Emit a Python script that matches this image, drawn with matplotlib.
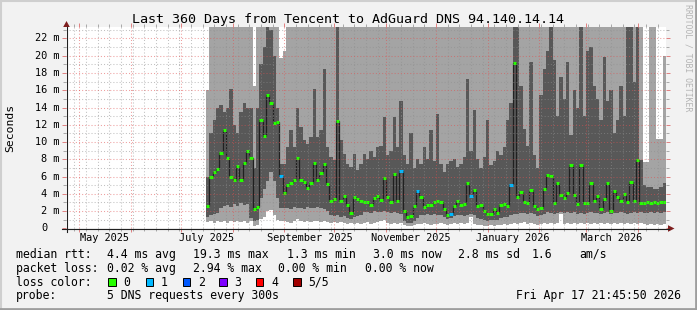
import numpy as np
import matplotlib
matplotlib.use('Agg')
import matplotlib.pyplot as plt
from matplotlib.patches import Rectangle, Polygon
from datetime import datetime, timedelta

# ---------------- data ----------------
title = "Last 360 Days from Tencent to AdGuard DNS 94.140.14.14"
end_time = datetime(2026, 4, 17, 21, 45, 50)
span_days = 360
first_col_day = 84      # first consolidated column, days after window start
col_days = 2            # width of each consolidated column (days)

# smoke boundaries in ms: lowest ping, 2nd ping, 4th ping, highest ping; median; loss count
lo = [0.7, 0.8, 0.6, 0.8, 0.7, 0.9, 0.6, 0.8, 0.7, 0.9, 0.7, 0.8, 0.6, 0.8, 0.3, 0.4, 1.1, 1.3, 2.0, 2.1,
      1.5, 1.0, 0.9, 0.8, 0.7, 0.6, 0.9, 1.1, 0.8, 0.7, 0.8, 0.7, 0.9, 0.8, 0.7, 0.8, 0.7, 0.6, 0.7, 0.6,
      0.7, 0.6, 0.5, 0.6, 0.5, 0.6, 0.5, 0.6, 0.7, 0.5, 0.6, 0.7, 0.8, 1.0, 0.6, 0.5, 0.6, 0.5, 0.6, 0.4,
      0.3, 0.3, 0.4, 0.5, 0.5, 0.6, 0.5, 0.4, 0.5, 0.5, 0.6, 0.5, 0.4, 0.5, 0.6, 0.5, 0.6, 0.5, 0.6, 1.3,
      0.5, 0.4, 0.4, 0.3, 0.3, 0.4, 0.3, 0.4, 0.4, 0.5, 0.4, 0.5, 0.6, 0.5, 0.6, 0.7, 0.5, 0.6, 0.5, 0.4,
      0.5, 0.6, 0.5, 0.6, 0.5, 0.6, 1.6, 0.5, 0.6, 0.5, 0.6, 0.5, 0.6, 0.5, 0.6, 0.5, 0.6, 0.5, 0.6, 0.5,
      0.6, 0.5, 0.6, 0.5, 0.6, 0.5, 0.6, 0.5, 0.6, 0.5, 0.6, 0.5, 0.4, 0.5, 0.4, 0.5, 0.4, 0.5]
q1 = [1.3, 1.5, 1.6, 1.8, 2.3, 2.6, 2.7, 2.5, 2.8, 2.6, 2.9, 2.7, 2.8, 1.2, 0.9, 1.0, 3.5, 4.5, 5.5, 6.5,
      5.5, 3.5, 2.3, 2.3, 2.4, 2.2, 2.5, 2.3, 2.4, 2.2, 2.5, 2.3, 2.4, 2.5, 2.3, 2.2, 2.0, 1.5, 1.4, 1.5,
      1.3, 1.4, 1.2, 1.1, 1.3, 1.4, 1.5, 1.9, 1.9, 1.8, 2.0, 1.9, 1.9, 2.0, 1.9, 1.8, 1.9, 1.8, 1.7, 0.8,
      0.6, 0.6, 0.8, 1.2, 1.5, 1.5, 1.6, 1.5, 1.6, 1.5, 1.5, 1.3, 1.1, 1.2, 1.4, 1.5, 1.5, 1.4, 1.5, 1.7,
      1.5, 1.2, 1.1, 1.0, 0.9, 1.0, 1.0, 1.0, 1.2, 1.3, 1.3, 1.5, 1.6, 1.7, 1.8, 1.8, 1.7, 1.8, 1.6, 1.4,
      1.5, 1.7, 1.9, 1.8, 1.7, 1.8, 1.9, 1.8, 1.9, 1.8, 1.9, 1.7, 1.8, 1.7, 1.8, 1.9, 1.8, 1.8, 1.7, 1.8,
      1.9, 1.7, 1.8, 1.8, 1.9, 1.8, 1.7, 1.8, 1.9, 1.8, 1.9, 1.8, 1.8, 1.9, 1.8, 1.9, 1.8, 1.9]
q3 = [6.0, 11.0, 12.5, 14.0, 14.3, 13.5, 14.0, 16.2, 12.0, 11.0, 13.5, 14.5, 14.0, 14.0, 7.0, 14.0, 19.0, 21.0, 25.0, 23.0,
      20.0, 14.0, 7.5, 7.5, 9.4, 11.4, 9.4, 14.0, 11.7, 10.2, 9.8, 10.6, 16.2, 10.6, 11.4, 18.5, 9.4, 8.3, 7.9, 25.0,
      10.2, 8.6, 7.5, 7.1, 8.6, 6.7, 7.5, 8.6, 8.0, 9.0, 8.3, 9.4, 9.5, 12.9, 8.5, 9.0, 12.9, 9.4, 14.8, 8.5,
      7.5, 11.0, 7.0, 8.0, 7.5, 9.4, 8.0, 11.4, 7.8, 13.3, 7.5, 6.5, 7.5, 7.8, 8.0, 7.1, 7.5, 8.3, 17.3, 9.0,
      13.7, 8.0, 7.0, 8.3, 12.5, 7.3, 7.8, 9.0, 8.5, 9.4, 12.5, 14.5, 25.0, 25.0, 16.5, 11.5, 9.5, 19.3, 8.5, 7.0,
      15.5, 18.5, 20.5, 25.0, 19.5, 13.0, 17.5, 15.0, 19.3, 10.8, 16.0, 14.0, 25.0, 13.0, 20.5, 21.0, 16.5, 15.0, 12.5, 19.8,
      14.8, 16.0, 11.0, 12.5, 16.5, 13.0, 25.0, 25.0, 17.0, 25.0, 7.9, 5.0, 4.8, 4.8, 4.5, 4.5, 4.8, 5.3]
hi = [16.0, 25.0, 25.0, 25.0, 25.0, 25.0, 25.0, 25.0, 25.0, 25.0, 25.0, 25.0, 25.0, 25.0, 16.5, 25.0, 25.0, 25.0, 25.0, 25.0,
      25.0, 25.0, 19.7, 20.5, 25.0, 25.0, 25.0, 25.0, 25.0, 25.0, 25.0, 25.0, 25.0, 25.0, 25.0, 25.0, 25.0, 25.0, 25.0, 25.0,
      25.0, 25.0, 25.0, 25.0, 25.0, 25.0, 25.0, 25.0, 25.0, 25.0, 25.0, 25.0, 25.0, 25.0, 25.0, 25.0, 25.0, 25.0, 25.0, 25.0,
      25.0, 25.0, 25.0, 25.0, 25.0, 25.0, 25.0, 25.0, 25.0, 25.0, 25.0, 25.0, 25.0, 25.0, 25.0, 25.0, 25.0, 25.0, 25.0, 25.0,
      25.0, 25.0, 25.0, 25.0, 25.0, 25.0, 25.0, 25.0, 25.0, 25.0, 25.0, 25.0, 25.0, 25.0, 25.0, 25.0, 25.0, 25.0, 25.0, 25.0,
      25.0, 25.0, 25.0, 25.0, 25.0, 25.0, 25.0, 25.0, 25.0, 25.0, 25.0, 25.0, 25.0, 25.0, 25.0, 25.0, 25.0, 25.0, 25.0, 25.0,
      25.0, 25.0, 25.0, 25.0, 25.0, 25.0, 25.0, 25.0, 25.0, 25.0, 25.0, 7.7, 7.7, 25.0, 25.0, 10.4, 10.4, 20.0]
med = [2.6, 6.0, 6.5, 6.9, 8.7, 11.4, 8.1, 6.0, 5.6, 7.2, 5.6, 7.6, 9.0, 8.1, 2.2, 2.5, 12.5, 10.7, 15.4, 14.5,
       12.2, 12.3, 6.1, 4.1, 5.0, 5.3, 5.6, 8.1, 5.6, 5.4, 4.7, 5.3, 7.6, 5.6, 6.4, 7.4, 5.1, 3.2, 3.4, 12.4,
       3.2, 3.7, 2.7, 1.8, 3.6, 3.4, 3.2, 3.0, 3.1, 2.7, 3.5, 3.7, 3.3, 5.8, 3.6, 3.0, 6.3, 3.2, 6.6, 2.0,
       1.3, 1.4, 2.6, 4.3, 3.6, 2.5, 2.7, 2.7, 3.0, 3.2, 3.0, 2.2, 1.5, 1.7, 2.6, 3.2, 2.7, 2.8, 5.2, 3.7,
       4.4, 2.6, 2.7, 2.0, 1.6, 1.6, 2.2, 1.8, 2.7, 2.8, 2.6, 5.0, 19.2, 3.6, 4.2, 3.0, 2.9, 4.4, 2.6, 2.2,
       2.4, 4.5, 6.2, 6.1, 2.9, 5.3, 3.9, 3.5, 4.1, 7.3, 3.9, 2.8, 7.3, 2.9, 2.9, 5.3, 3.2, 3.8, 2.2, 3.4,
       5.3, 2.0, 4.3, 3.6, 3.2, 4.0, 3.0, 5.4, 3.2, 7.9, 2.9, 2.9, 3.0, 2.9, 3.0, 2.9, 3.0, 3.0]
loss = [0] * 22 + [1] + [0] * 35 + [1, 0, 0, 0, 0, 1] + [0] * 9 + [1] + [0] * 5 + [1] + [0] * 11 + [1] + [0] * 46

loss_colors = ['#26ff00', '#00b8ff', '#0059ff', '#7e00ff', '#ff0000', '#a10000']
loss_labels = ['0', '1', '2', '3', '4', '5/5']

y_ticks = [0, 2, 4, 6, 8, 10, 12, 14, 16, 18, 20, 22]
y_labels = ['0', '2 m', '4 m', '6 m', '8 m', '10 m', '12 m', '14 m', '16 m', '18 m', '20 m', '22 m']
x_label_months = [(2025, 5), (2025, 7), (2025, 9), (2025, 11), (2026, 1), (2026, 3)]
x_labels = ['May 2025', 'July 2025', 'September 2025', 'November 2025', 'January 2026', 'March 2026']

legend_rows = [
    [("median rtt:", 16), ("4.4 ms avg", 107.3), ("19.3 ms max", 193.3), ("1.3 ms min", 286.7),
     ("3.0 ms now", 372.7), ("2.8 ms sd", 458.3), ("1.6", 531.7), ("am/s", 579.5)],
    [("packet loss:", 16), ("0.02 % avg", 107.3), ("2.94 % max", 193.3), ("0.00 % min", 278.3),
     ("0.00 % now", 365.0)],
    [("loss color:", 16)],
    [("probe:", 16), ("5 DNS requests every 300s", 107.3)],
]
legend_y = [254.3, 268.3, 282.3, 296.0]
stamp = "Fri Apr 17 21:45:50 2026"

# ---------------- layout ----------------
W, H = 697, 310
start_time = end_time - timedelta(days=span_days)
FONT = 'DejaVu Sans Mono'

fig = plt.figure(figsize=(W / 100, H / 100), dpi=100, facecolor='#f2f2f2')

ax_l, ax_r, ax_b, ax_t = 66.0, 666.0, 228.3, 27.0
ax = fig.add_axes([ax_l / W, (H - ax_b) / H, (ax_r - ax_l) / W, (ax_b - ax_t) / H])
ax.set_facecolor('white')
ymax = 23.33
ax.set_xlim(0, span_days)
ax.set_ylim(0, ymax)
px_per_ms = (ax_b - ax_t) / ymax
px_per_day = (ax_r - ax_l) / span_days

n = len(med)
edges = first_col_day + col_days * np.arange(n + 1)

ax.stairs(hi, edges, baseline=lo, fill=True, color='#a4a4a4', lw=0, zorder=1.0)
ax.stairs(q3, edges, baseline=q1, fill=True, color='#585858', lw=0, zorder=1.1)
ax.stairs(med, edges, baseline=None, color='#202020', lw=0.9, zorder=1.2)
ax.hlines(med, edges[:-1], edges[1:], colors=[loss_colors[l] for l in loss],
          lw=2.2, zorder=1.3, capstyle='butt')


def day_of(dt):
    return (dt - start_time).total_seconds() / 86400.0


# grid
month_starts = []
y, m = start_time.year, start_time.month + 1
while True:
    d = datetime(y, m, 1)
    if d > end_time:
        break
    month_starts.append(day_of(d))
    m += 1
    if m > 12:
        m = 1
        y += 1
week0 = datetime(start_time.year, start_time.month, start_time.day) + timedelta(days=(7 - start_time.weekday()) % 7)
weeks = []
w = week0
while w < end_time:
    weeks.append(day_of(w))
    w += timedelta(days=7)

ax.set_xticks(month_starts)
ax.set_xticks(weeks, minor=True)
ax.set_yticks(y_ticks)
ax.set_yticks(np.arange(1, 23.5, 1), minor=True)
ax.set_xticklabels([])
ax.set_yticklabels([])
ax.set_axisbelow(False)
dots = (0, (1, 2))
ax.grid(which='major', color='#e05050', alpha=0.55, linestyle=dots, lw=0.75)
ax.grid(which='minor', color='#8f8f8f', alpha=0.55, linestyle=dots, lw=0.75)
ax.tick_params(which='major', direction='out', length=3, width=0.7, color='#e08080',
               top=True, right=True)
ax.tick_params(which='minor', direction='out', length=2, width=0.7, color='#a8a8a8',
               top=True, right=True)
for s in ax.spines.values():
    s.set_visible(False)

# overlay in pixel coordinates
ov = fig.add_axes([0, 0, 1, 1], zorder=5)
ov.set_xlim(0, W)
ov.set_ylim(H, 0)
ov.axis('off')
ov.patch.set_alpha(0)

# border shading
ov.plot([0, W], [0.75, 0.75], color='#cfcfcf', lw=1.5)
ov.plot([0.75, 0.75], [0, H], color='#cfcfcf', lw=1.5)
ov.plot([0, W], [H - 1.25, H - 1.25], color='#9e9e9e', lw=2)
ov.plot([W - 1.25, W - 1.25], [0, H], color='#9e9e9e', lw=2)

# axes lines and arrows
ov.plot([66.5, 66.5], [231.5, 27], color='#202020', lw=0.8)
ov.plot([62, 668.5], [228.5, 228.5], color='#202020', lw=0.8)
ov.add_patch(Polygon([(63.2, 27), (69.8, 27), (66.5, 21)], closed=True, color='#7f1f1f', lw=0))
ov.add_patch(Polygon([(668, 225.2), (668, 231.8), (674.5, 228.5)], closed=True, color='#7f1f1f', lw=0))

# title
ov.text(348, 19.3, title, ha='center', va='center', fontsize=9.6, family=FONT, color='black')
# y label
ov.text(10.5, 127.5, 'Seconds', rotation=90, ha='center', va='center', fontsize=8.2, family=FONT)
# watermark
ov.text(688, 4.5, 'RRDTOOL / TOBI OETIKER', rotation=-90, ha='center', va='top',
        fontsize=5.9, family=FONT, color='#b4b4b4')

# y tick labels
for v, lab in zip(y_ticks, y_labels):
    yp = ax_b - v * px_per_ms
    xr = 59.5 if lab != '0' else 47.2
    ov.text(xr, yp, lab, ha='right', va='center', fontsize=7.4, family=FONT)

# x tick labels (centred mid-month)
for (yy, mm), lab in zip(x_label_months, x_labels):
    dmid = day_of(datetime(yy, mm, 1)) + 15
    xp = ax_l + dmid * px_per_day
    ov.text(xp, 237.8, lab, ha='center', va='center', fontsize=7.4, family=FONT)

# legend
for row, yp in zip(legend_rows, legend_y):
    for txt, xp in row:
        ov.text(xp, yp, txt, ha='left', va='center', fontsize=8.3, family=FONT)

box_x = [108.3, 145.7, 182.7, 219.3, 256.0, 293.3]
for bx, c, lab in zip(box_x, loss_colors, loss_labels):
    ov.add_patch(Rectangle((bx, 277.5), 7.3, 8.5, facecolor=c, edgecolor='black', lw=0.7))
    ov.text(bx + 15, legend_y[2], lab, ha='left', va='center', fontsize=8.3, family=FONT)

ov.text(680.5, legend_y[3], stamp, ha='right', va='center', fontsize=8.3, family=FONT)

fig.savefig('out.png', dpi=100, facecolor=fig.get_facecolor())
